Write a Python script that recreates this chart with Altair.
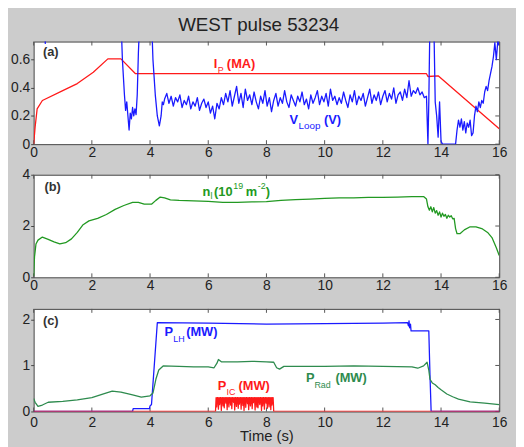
import altair as alt
import pandas as pd
import numpy as np

FONT = "Liberation Sans"
W, H = 472, 104
X_TICKS = [0, 2, 4, 6, 8, 10, 12, 14, 16]

# ---------------- panel (a) ----------------
ip_t = [0.0, 0.05, 0.12, 0.3, 1.0, 1.5, 2.05, 2.55, 3.0, 3.5, 13.5, 13.55, 13.9, 16.0]
ip_v = [0.0, 0.12, 0.25, 0.31, 0.38, 0.43, 0.51, 0.605, 0.605, 0.5, 0.5, 0.48, 0.485, 0.11]

# values above 0.728 are off the top of the axis, values <= 0 at its floor
vl_pre_t = [0.0, 0.36, 0.4, 0.44, 3.0, 3.05, 3.12, 3.16, 3.2, 3.24, 3.28, 3.32, 3.36, 3.4,
            3.44, 3.48, 3.52, 3.56, 3.6, 3.65, 4.05, 4.1, 4.18, 4.25, 4.32, 4.38, 4.42, 4.46]
vl_pre_v = [0.9, 0.9, 0.715, 0.9, 0.9, 0.6, 0.35, 0.24, 0.3, 0.2, 0.1, 0.22, 0.18, 0.26,
            0.2, 0.25, 0.21, 0.35, 0.65, 0.9, 0.9, 0.6, 0.35, 0.2, 0.13, 0.2, 0.3, 0.28]
# flat-top noisy part, sampled every 0.075 s from 4.5 s to 13.5 s
vl_mid_v = [0.32, 0.36, 0.29, 0.34, 0.27, 0.33, 0.30, 0.35, 0.26, 0.31,
            0.28, 0.34, 0.25, 0.30, 0.27, 0.33, 0.24, 0.29, 0.32, 0.26,
            0.30, 0.22, 0.27, 0.18, 0.29, 0.25, 0.33, 0.28, 0.36, 0.30,
            0.38, 0.27, 0.34, 0.41, 0.29, 0.36, 0.26, 0.39, 0.31, 0.35,
            0.28, 0.37, 0.30, 0.25, 0.34, 0.29, 0.38, 0.27, 0.33, 0.23,
            0.31, 0.36, 0.27, 0.33, 0.29, 0.38, 0.30, 0.26, 0.35, 0.31,
            0.27, 0.34, 0.30, 0.37, 0.28, 0.32, 0.25, 0.35, 0.29, 0.33,
            0.38, 0.28, 0.34, 0.30, 0.36, 0.27, 0.39, 0.31, 0.34, 0.28,
            0.33, 0.29, 0.37, 0.31, 0.26, 0.35, 0.30, 0.38, 0.28, 0.34,
            0.31, 0.36, 0.27, 0.33, 0.39, 0.29, 0.35, 0.31, 0.37, 0.28,
            0.34, 0.38, 0.30, 0.36, 0.32, 0.40, 0.29, 0.35, 0.37, 0.31,
            0.39, 0.33, 0.45, 0.34, 0.38, 0.36, 0.40, 0.35, 0.37, 0.33, 0.34]
vl_post_t = [13.52, 13.55, 13.58, 13.62, 13.75, 13.8, 13.85, 13.9, 13.95, 14.0, 14.05, 14.5,
             14.55, 14.6, 14.65, 14.7, 14.75, 14.8, 14.85, 14.9, 14.95, 15.0, 15.05, 15.1,
             15.15, 15.2, 15.25, 15.3, 15.35, 15.4, 15.45, 15.5, 15.55, 15.6, 15.65, 15.7,
             15.75, 15.8, 15.85, 15.9, 15.95, 16.0]
vl_post_v = [0.2, 0.0, 0.3, 0.9, 0.9, 0.3, 0.2, 0.05, 0.3, 0.02, 0.0, 0.0,
             0.1, 0.17, 0.12, 0.18, 0.1, 0.16, 0.08, 0.15, 0.12, 0.17, 0.06, 0.08,
             0.2, 0.27, 0.23, 0.3, 0.26, 0.31, 0.29, 0.37, 0.41, 0.38, 0.45, 0.5,
             0.55, 0.62, 0.72, 0.6, 0.73, 0.7]

# ---------------- panel (b) ----------------
nl_t = [0, 0.03, 0.08, 0.15, 0.3, 0.5, 0.7, 0.9, 1.1, 1.3, 1.5, 1.7, 1.9, 2.2, 2.5, 2.8, 3.1,
        3.4, 3.6, 3.8, 4.05, 4.2, 4.35, 4.5, 4.7, 5.0, 5.5, 6.0, 6.5, 7.0, 7.5, 8.0, 8.5, 9.0,
        9.5, 10.0, 10.5, 11.0, 11.5, 12.0, 12.5, 13.0, 13.4, 13.5, 13.55, 13.6, 13.65, 13.7,
        13.75, 13.8, 13.85, 13.9, 13.95, 14.0, 14.05, 14.1, 14.15, 14.2, 14.25, 14.3, 14.35,
        14.4, 14.45, 14.5, 14.55, 14.65, 14.8, 15.0, 15.2, 15.4, 15.6, 15.75, 15.9, 16.0]
nl_v = [0.05, 0.8, 1.3, 1.45, 1.57, 1.48, 1.38, 1.3, 1.35, 1.5, 1.75, 2.05, 2.2, 2.3, 2.45,
        2.65, 2.8, 2.92, 2.92, 2.85, 2.85, 3.0, 3.13, 3.1, 3.02, 3.0, 2.98, 2.96, 2.92, 2.92,
        2.94, 2.95, 3.0, 3.03, 3.05, 3.08, 3.1, 3.1, 3.12, 3.12, 3.13, 3.15, 3.15, 3.05, 2.75,
        2.62, 2.75, 2.55, 2.72, 2.5, 2.6, 2.42, 2.55, 2.35, 2.5, 2.38, 2.45, 2.3, 2.42, 2.35,
        2.4, 2.28, 2.3, 1.9, 1.7, 1.7, 1.85, 1.97, 1.97, 1.9, 1.75, 1.55, 1.15, 0.85]

# ---------------- panel (c) ----------------
plh_t = [0, 3.4, 3.42, 3.98, 4.0, 4.05, 4.25, 6.0, 8.0, 10.0, 12.0, 12.85, 12.88, 12.9,
         12.92, 12.95, 12.97, 13.58, 13.62, 13.66, 16.0]
plh_v = [0, 0, 0.06, 0.06, 0.12, 0.15, 1.93, 1.92, 1.9, 1.91, 1.92, 1.93, 1.86, 1.97,
         1.82, 1.9, 1.75, 1.75, 0.8, 0.0, 0.0]

prad_t = [0, 0.05, 0.15, 0.3, 0.5, 1.0, 1.5, 2.0, 2.4, 2.7, 3.0, 3.4, 3.7, 4.0, 4.1, 4.2,
          4.3, 4.45, 5.0, 5.5, 6.0, 6.2, 6.3, 6.35, 6.45, 7.0, 7.5, 8.0, 8.25, 8.35, 8.45,
          8.6, 9.0, 10.0, 11.0, 12.0, 13.0, 13.2, 13.4, 13.52, 13.58, 13.62, 13.7, 13.8,
          13.9, 14.0, 14.2, 14.4, 14.6, 15.0, 15.5, 16.0]
prad_v = [0.28, 0.2, 0.11, 0.14, 0.2, 0.22, 0.25, 0.3, 0.38, 0.44, 0.42, 0.36, 0.31, 0.34,
          0.4, 0.7, 0.9, 0.99, 0.98, 0.97, 0.97, 0.95, 1.05, 1.13, 1.08, 1.08, 1.09, 1.08,
          1.07, 0.95, 0.92, 0.98, 0.98, 0.98, 0.99, 0.98, 0.97, 0.94, 0.99, 1.07, 0.9, 0.7,
          0.62, 0.58, 0.52, 0.47, 0.38, 0.32, 0.27, 0.21, 0.18, 0.15]

# ICRH modulated block, sampled uniformly between 6.25 s and 8.25 s
pic_block = [0.0, 0.3, 0.1, 0.3, 0.3, 0.05, 0.3, 0.15, 0.3, 0.3, 0.02, 0.3, 0.3, 0.12, 0.3,
             0.08, 0.3, 0.3, 0.18, 0.3, 0.04, 0.3, 0.3, 0.1, 0.3, 0.3, 0.14, 0.3, 0.06, 0.3,
             0.3, 0.2, 0.3, 0.03, 0.3, 0.3, 0.11, 0.3, 0.3, 0.07, 0.3, 0.16, 0.3, 0.3, 0.05,
             0.3, 0.3, 0.13, 0.3, 0.02, 0.3, 0.3, 0.09, 0.3, 0.3, 0.17, 0.3, 0.04, 0.3, 0.3,
             0.12, 0.3, 0.3, 0.06, 0.3, 0.19, 0.3, 0.3, 0.03, 0.3, 0.3, 0.1, 0.3, 0.08, 0.3,
             0.3, 0.15, 0.3, 0.3, 0.02, 0.3, 0.12, 0.3, 0.3, 0.05, 0.3, 0.3, 0.18, 0.3, 0.07,
             0.3, 0.3, 0.1, 0.3, 0.3, 0.04, 0.3, 0.14, 0.3, 0.3, 0.0]
pic_t = [0.0] + list(np.linspace(6.25, 8.25, len(pic_block))) + [16.0]
pic_v = [0.0] + pic_block + [0.0]

vl_t = vl_pre_t + list(np.linspace(4.5, 13.5, len(vl_mid_v))) + vl_post_t
vl_v = vl_pre_v + vl_mid_v + vl_post_v

RED = "#ff1a1a"
BLUE = "#1a1aff"
GREEN_N = "#229922"
GREEN_R = "#2e8b4e"
LBL = "#333333"


def panel(ydom, yticks, series, bold_rows, thin_rows, xtitle=None, lpad=2, mext=0):
    xs = alt.Scale(domain=[0, 16], nice=False, zero=False)
    ys = alt.Scale(domain=ydom, nice=False, zero=False)
    xaxis = alt.Axis(values=X_TICKS, tickSize=0, labelPadding=lpad, format="~g",
                     labelFlush=False, minExtent=mext,
                     title=xtitle if xtitle else None, titleFontSize=15, titleFont=FONT,
                     titleFontWeight="normal", titleColor="#222", titlePadding=-1)
    yaxis = alt.Axis(values=yticks, tickSize=3, labelPadding=1, format="~g", title=None,
                     labelFlush=False)

    def X(f):
        return alt.X(f, scale=xs, axis=xaxis, title=xtitle if xtitle else None)

    def Y(f):
        return alt.Y(f, scale=ys, axis=yaxis, title=None)

    xt = pd.DataFrame({"x": X_TICKS})
    yt = pd.DataFrame({"y": yticks})
    tick_top = alt.Chart(xt).mark_rule(color="#555", strokeWidth=1).encode(
        x=X("x:Q"), y=alt.value(0), y2=alt.value(4))
    tick_bot = alt.Chart(xt).mark_rule(color="#555", strokeWidth=1).encode(
        x=X("x:Q"), y=alt.value(H - 4), y2=alt.value(H))
    tick_right = alt.Chart(yt).mark_rule(color="#555", strokeWidth=1).encode(
        y=Y("y:Q"), x=alt.value(W - 4), x2=alt.value(W))
    layers = [tick_top, tick_bot, tick_right]
    for t, v, c in series:
        df = pd.DataFrame({"x": t, "y": v})
        layers.append(alt.Chart(df).mark_line(color=c, strokeWidth=1.3, clip=True,
                                              strokeJoin="round").encode(
            x=X("x:Q"), y=Y("y:Q")))
    for rows, bold in ((bold_rows, True), (thin_rows, False)):
        df = pd.DataFrame(rows, columns=["x", "y", "txt", "size", "color"])
        layers.append(alt.Chart(df).mark_text(
            align="left", baseline="alphabetic", font=FONT,
            fontWeight="bold" if bold else "normal").encode(
            x=X("x:Q"), y=Y("y:Q"), text="txt:N",
            size=alt.Size("size:Q", scale=None),
            color=alt.Color("color:N", scale=None)))
    return alt.layer(*layers).properties(width=W, height=H)


pa = panel(
    [0, 0.728], [0, 0.2, 0.4, 0.6],
    [(ip_t, ip_v, RED), (vl_t, vl_v, BLUE)],
    [(0.32, 0.625, "(a)", 13, LBL),
     (6.19, 0.541, "I", 13, RED), (6.64, 0.541, "(MA)", 13, RED),
     (8.79, 0.14, "V", 13, BLUE), (9.98, 0.14, "(V)", 13, BLUE)],
    [(6.33, 0.505, "P", 9, RED),
     (9.1, 0.105, "Loop", 10, BLUE)],
    lpad=2,
)

pb = panel(
    [0, 4], [0, 2, 4],
    [(nl_t, nl_v, GREEN_N)],
    [(0.37, 3.38, "(b)", 13, LBL),
     (5.8, 3.19, "n", 13, GREEN_N), (6.2, 3.19, "(10", 13, GREEN_N),
     (7.29, 3.19, "m", 13, GREEN_N), (7.98, 3.19, ")", 13, GREEN_N)],
    [(6.08, 3.04, "l", 9, GREEN_N), (6.86, 3.45, "19", 9, GREEN_N),
     (7.7, 3.45, "-2", 9, GREEN_N)],
    lpad=1, mext=24,
)

pc = panel(
    [0, 2.23], [0, 1, 2],
    [(plh_t, plh_v, BLUE), (prad_t, prad_v, GREEN_R), (pic_t, pic_v, RED)],
    [(0.32, 1.88, "(c)", 13, LBL),
     (4.5, 1.63, "P", 13, BLUE), (5.24, 1.63, "(MW)", 13, BLUE),
     (6.33, 0.46, "P", 13, RED), (7.04, 0.46, "(MW)", 13, RED),
     (9.36, 0.63, "P", 13, GREEN_R), (10.37, 0.63, "(MW)", 13, GREEN_R)],
    [(4.8, 1.52, "LH", 9, BLUE),
     (6.63, 0.36, "IC", 9, RED),
     (9.65, 0.51, "Rad", 9, GREEN_R)],
    xtitle="Time (s)", lpad=4,
)

chart = alt.vconcat(pa, pb, pc, spacing=6).properties(
    title=alt.TitleParams("WEST pulse 53234", fontSize=19, font=FONT, fontWeight="normal",
                          color="#222", offset=6, anchor="middle"),
    padding={"left": 2, "top": 5, "right": 8, "bottom": 0},
).configure(background="#cccccc").configure_view(
    fill="white", stroke="#444", strokeWidth=1
).configure_axis(
    labelFont=FONT, labelFontSize=14, labelColor="#222", domain=False, grid=False,
    tickColor="#444"
)

chart.save("out.html", embed_options={"renderer": "svg", "actions": False})
